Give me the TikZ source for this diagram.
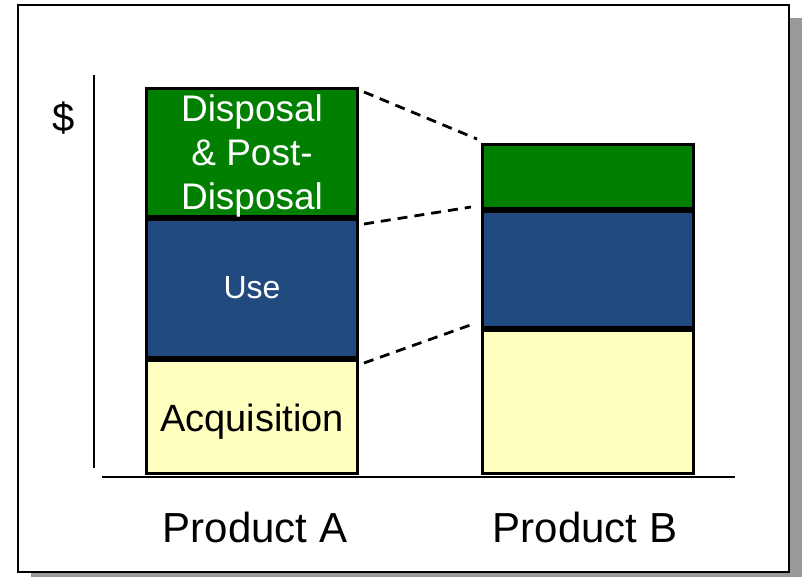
\documentclass[tikz,border=0pt]{standalone}
\usepackage{fontspec}
\setmainfont{Liberation Sans}
\usetikzlibrary{calc}
\definecolor{costgreen}{HTML}{007F00}
\definecolor{costblue}{HTML}{214A7E}
\definecolor{costyellow}{HTML}{FFFFBF}
\definecolor{shadowgray}{HTML}{999999}
\tikzset{
  seg/.style={draw=black, line width=3pt, inner sep=0pt, minimum width=211pt},
  axisline/.style={line width=2.4pt, black},
  guide/.style={line width=2.8pt, black, dash pattern=on 10pt off 7pt},
  lbl/.style={inner sep=0pt, align=center},
}
\begin{document}
\begin{tikzpicture}[x=1pt, y=-1pt]
  \useasboundingbox (0,0) rectangle (802,577);
  \clip (0,0) rectangle (802,577);
  % framed panel with drop shadow
  \fill[shadowgray] (31,18) rectangle (815,590);
  \draw[line width=2.8pt, fill=white] (18,5) rectangle (789,572);

  % axes
  \coordinate (ytop) at (94,75);
  \coordinate (ybot) at (94,468);
  \coordinate (xl) at (102,477);
  \coordinate (xr) at (735,477);
  \draw[axisline] (ytop) -- (ybot);
  \draw[axisline] (xl) -- (xr);

  % Product A stack
  \node[seg, fill=costgreen,  minimum height=128pt] (ag) at (252,152.5) {};
  \node[seg, fill=costblue,   minimum height=138pt] (ab) at (252,288.5) {};
  \node[seg, fill=costyellow, minimum height=113pt] (ay) at (252,417) {};

  % Product B stack
  \node[seg, fill=costgreen,  minimum height=64pt]  (bg) at (588,176.5) {};
  \node[seg, fill=costblue,   minimum height=116pt] (bb) at (588,269.5) {};
  \node[seg, fill=costyellow, minimum height=143pt] (by) at (588,402) {};

  % segment labels
  \node[lbl, text=white, font=\fontsize{37}{44}\selectfont] (agt) at (252,156)
    {Disposal\\\& Post-\\Disposal};
  \node[lbl, text=white, font=\fontsize{32}{38}\selectfont] (abt) at (252,288) {Use};
  \node[lbl, text=black, font=\fontsize{38}{44}\selectfont] (ayt) at (252,422) {Acquisition};

  % axis and category labels
  \node[lbl, font=\fontsize{40}{46}\selectfont] (dollar) at (64,118) {\$};
  \node[lbl, font=\fontsize{42}{48}\selectfont, anchor=base] (pa) at (255,542) {Product A};
  \node[lbl, font=\fontsize{42}{48}\selectfont, anchor=base] (pb) at (585,542) {Product B};

  % dashed guides between the stacks
  \draw[guide] ($(ag.north east)+(5,5)$) -- ($(bg.north west)+(-4,-4)$);
  \draw[guide] ($(ab.north east)+(5,6)$) -- ($(bb.north west)+(-10,-3)$);
  \draw[guide] ($(ay.north east)+(5,4)$) -- ($(by.north west)+(-5,-6)$);
\end{tikzpicture}
\end{document}
